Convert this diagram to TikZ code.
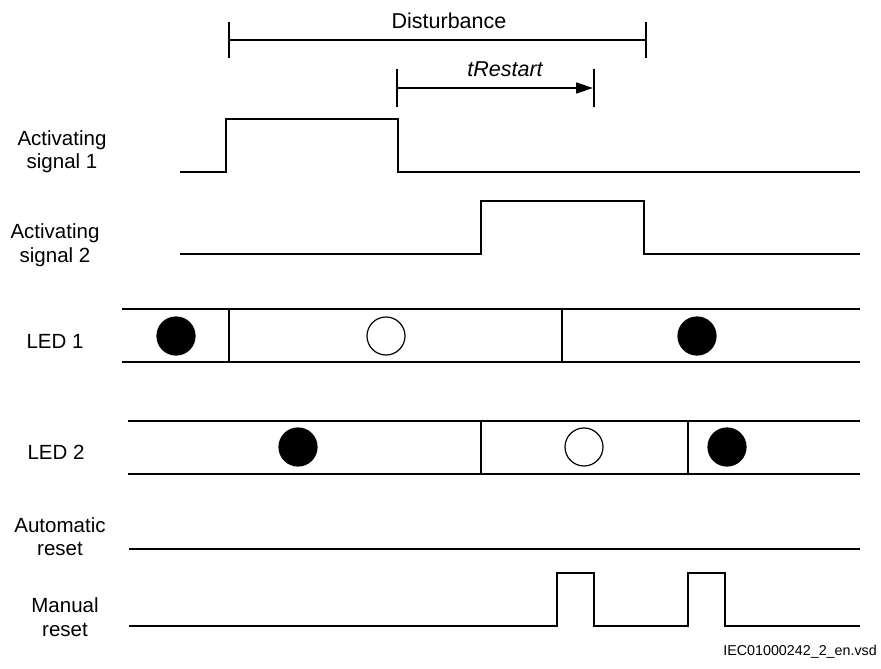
\documentclass[tikz,border=0pt]{standalone}
\usepackage{fontspec}
\setmainfont{Liberation Sans}
\usetikzlibrary{arrows.meta}
\begin{document}
\begin{tikzpicture}[x=1pt,y=-1pt,
  wave/.style={line width=1.6pt, line join=miter},
  lbl/.style={inner sep=0pt, anchor=base, font=\fontsize{20.5}{24}\selectfont},
  toplbl/.style={inner sep=0pt, anchor=base, font=\fontsize{21.5}{24}\selectfont},
  dotfull/.style={circle, fill=black, draw=black, line width=1.2pt, minimum size=38pt, inner sep=0pt},
  dotopen/.style={circle, fill=white, draw=black, line width=1.2pt, minimum size=38pt, inner sep=0pt},
  tick/.style={line width=1.6pt}]
\useasboundingbox (0,0) rectangle (881,669);

% ---- Disturbance ----
\coordinate (d1t) at (229,22); \coordinate (d1b) at (229,58);
\coordinate (d2t) at (646,22); \coordinate (d2b) at (646,58);
\coordinate (dl) at (229,40); \coordinate (dr) at (646,40);
\draw[tick] (d1t) -- (d1b);
\draw[tick] (d2t) -- (d2b);
\draw[tick] (dl) -- (dr);
\node[toplbl] (dist) at (449,29) {Disturbance};

% ---- tRestart ----
\coordinate (r1t) at (397,69); \coordinate (r1b) at (397,107);
\coordinate (r2t) at (594,69); \coordinate (r2b) at (594,107);
\coordinate (rl) at (397,88); \coordinate (rr) at (593,88);
\draw[tick] (r1t) -- (r1b);
\draw[tick] (r2t) -- (r2b);
\draw[tick, -{Triangle[length=17pt,width=11pt]}] (rl) -- (rr);
\node[toplbl] (trest) at (505,77) {\itshape tRestart};

% ---- Activating signal 1 ----
\node[lbl] (as1a) at (62,145) {Activating};
\node[lbl] (as1b) at (62,168) {signal 1};
\draw[wave] (180,172) coordinate (a1s) -- (226,172) -- (226,119) -- (398,119) -- (398,172) -- (860,172) coordinate (a1e);

% ---- Activating signal 2 ----
\node[lbl] (as2a) at (55,238) {Activating};
\node[lbl] (as2b) at (55,262) {signal 2};
\draw[wave] (180,254) coordinate (a2s) -- (481,254) -- (481,201) -- (644,201) -- (644,254) -- (860,254) coordinate (a2e);

% ---- LED 1 ----
\node[lbl] (led1) at (55,348) {LED 1};
\draw[wave] (122,309) coordinate (l1tl) -- (860,309) coordinate (l1tr);
\draw[wave] (122,362) coordinate (l1bl) -- (860,362) coordinate (l1br);
\draw[wave] (229,309) -- (229,362);
\draw[wave] (562,309) -- (562,362);
\node[dotfull] (l1d1) at (176,336) {};
\node[dotopen] (l1d2) at (386,336) {};
\node[dotfull] (l1d3) at (697,336) {};

% ---- LED 2 ----
\node[lbl] (led2) at (56,459) {LED 2};
\draw[wave] (128,421) coordinate (l2tl) -- (860,421) coordinate (l2tr);
\draw[wave] (128,474) coordinate (l2bl) -- (860,474) coordinate (l2br);
\draw[wave] (481,421) -- (481,474);
\draw[wave] (688,421) -- (688,474);
\node[dotfull] (l2d1) at (298,447) {};
\node[dotopen] (l2d2) at (584,447) {};
\node[dotfull] (l2d3) at (727,447) {};

% ---- Automatic reset ----
\node[lbl] (ara) at (60,532) {Automatic};
\node[lbl] (arb) at (60,555) {reset};
\draw[wave] (129,549) coordinate (ars) -- (860,549) coordinate (are);

% ---- Manual reset ----
\node[lbl] (mra) at (65,612) {Manual};
\node[lbl] (mrb) at (65,636) {reset};
\draw[wave] (129,626) coordinate (mrs) -- (557,626) -- (557,573) -- (594,573) -- (594,626)
  -- (688,626) -- (688,573) -- (725,573) -- (725,626) -- (860,626) coordinate (mre);

% ---- file name ----
\node[inner sep=0pt, anchor=base east, font=\fontsize{14.3}{16}\selectfont] (fname) at (877,655) {IEC01000242\_2\_en.vsd};
\end{tikzpicture}
\end{document}
